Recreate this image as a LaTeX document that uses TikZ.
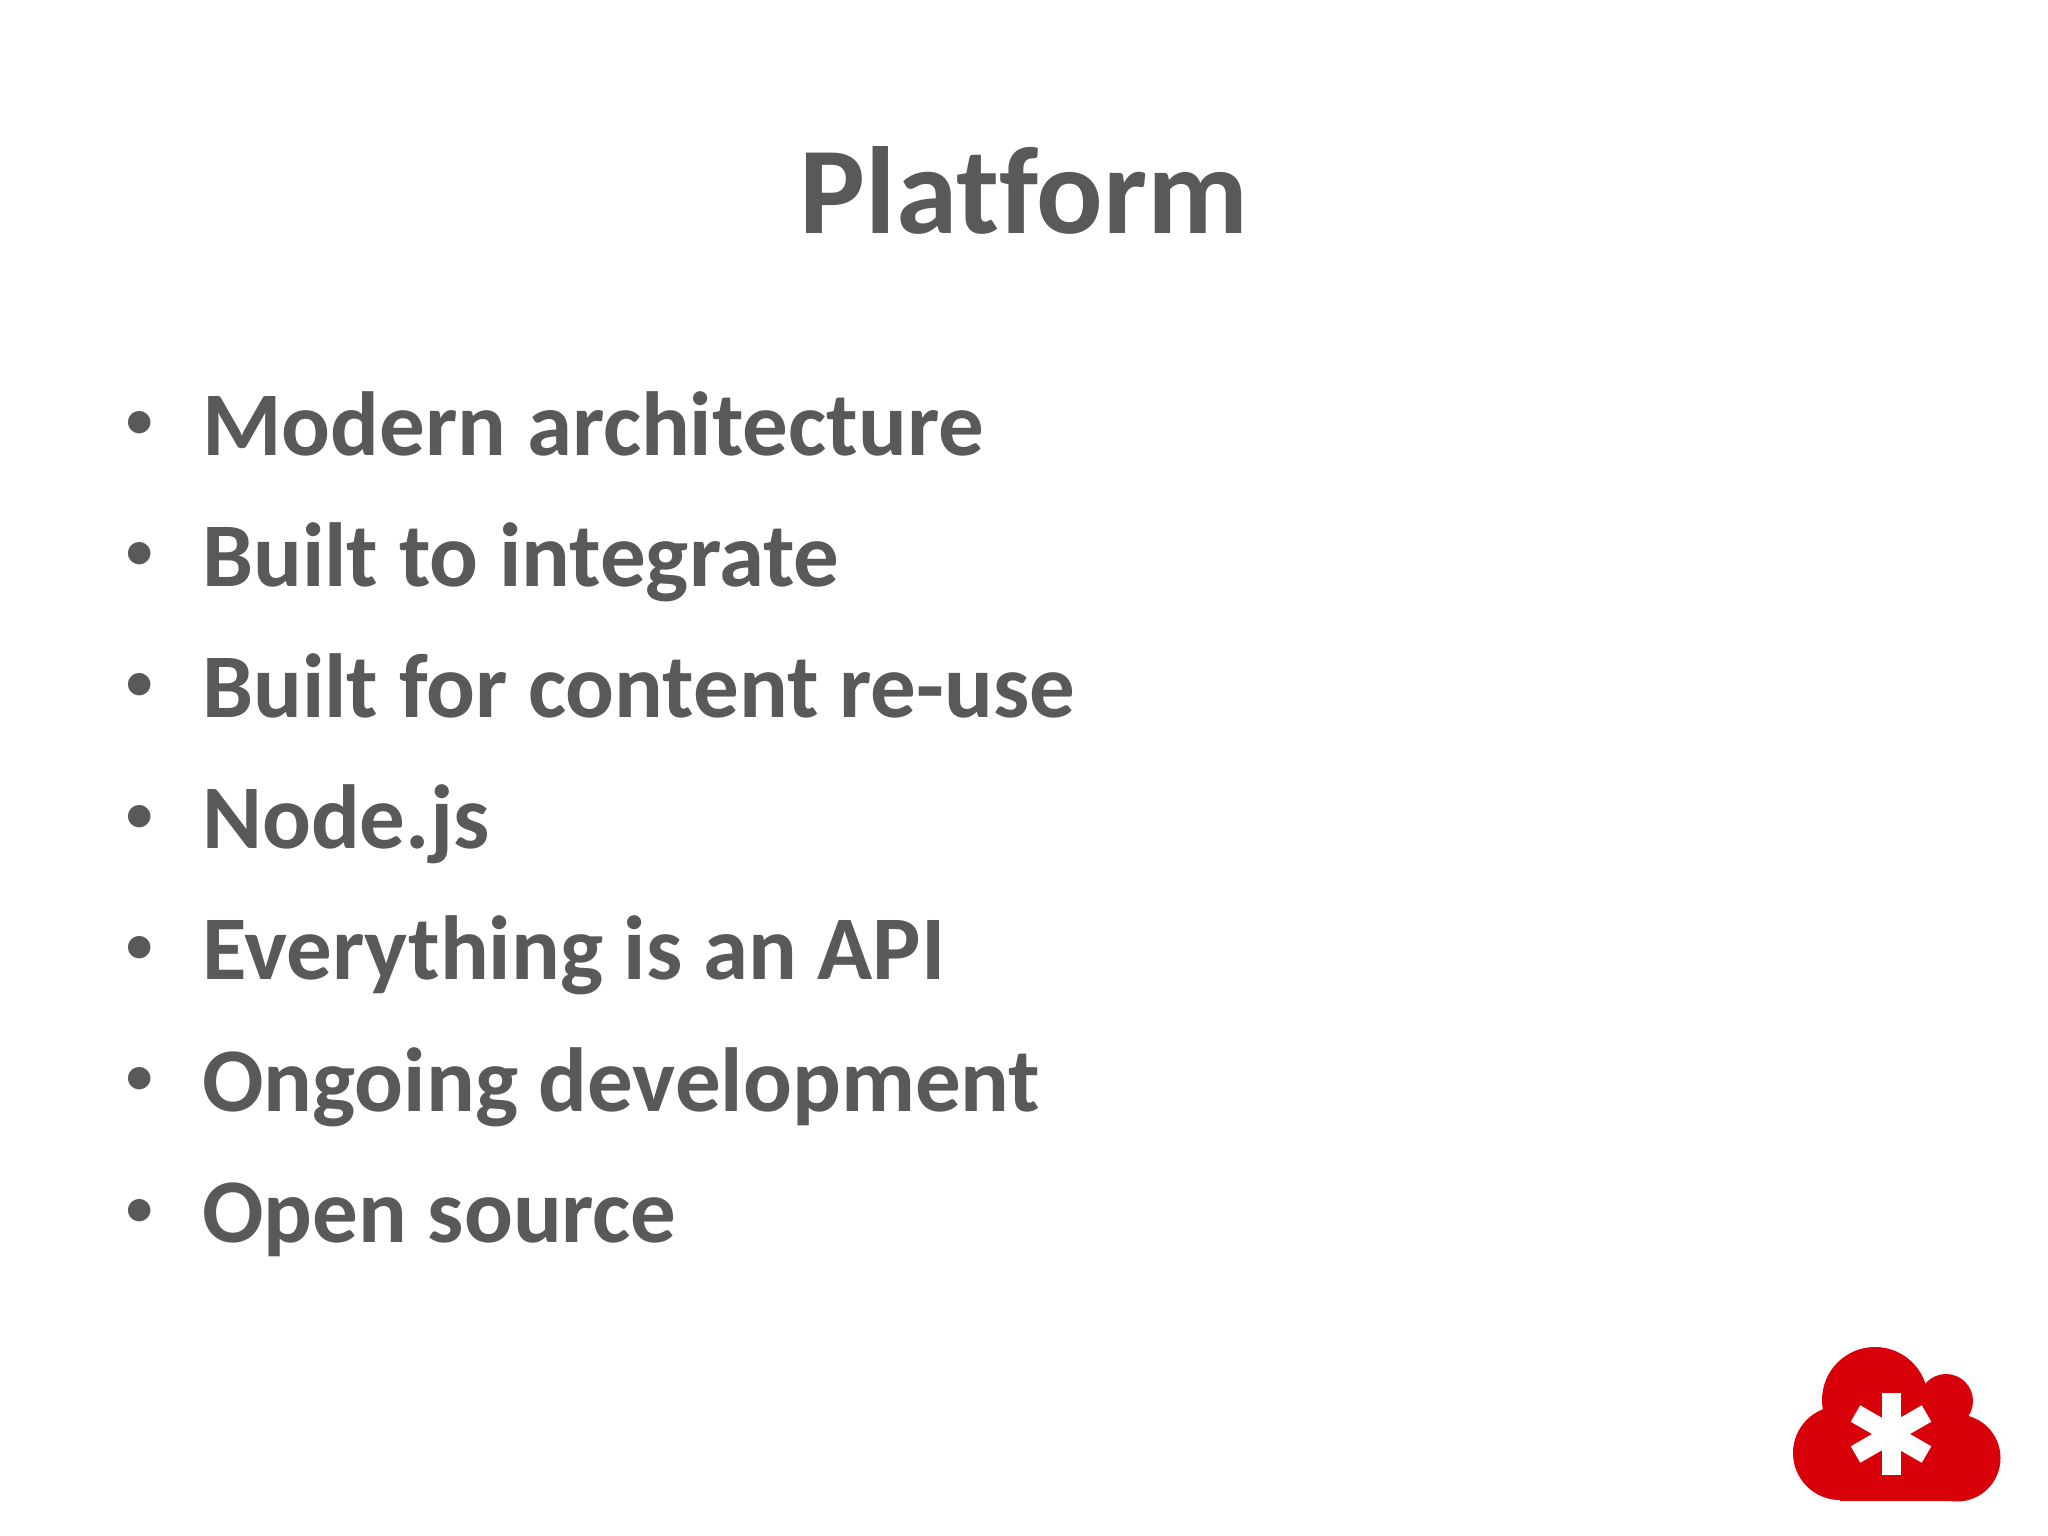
\documentclass[tikz,border=0pt]{standalone}
\usepackage{fontspec}
\setmainfont[Ligatures=NoCommon]{Carlito}
\usepackage{tikz}
\definecolor{slidegray}{HTML}{595959}
\definecolor{cloudred}{HTML}{D80009}
\tikzstyle{heading}=[anchor=base, inner sep=0pt, text=slidegray, font=\fontsize{124pt}{124pt}\selectfont\bfseries]
\tikzstyle{entry}=[anchor=base west, inner sep=0pt, text=slidegray, font=\fontsize{91pt}{91pt}\selectfont\bfseries]
\tikzstyle{bullet}=[anchor=base, inner sep=0pt, text=slidegray, font=\fontsize{53pt}{53pt}\selectfont\bfseries]
\tikzstyle{spoke}=[draw=white, line width=19pt]
\newcommand{\entry}{\node[entry]}
\newcommand{\bulletmark}{\node[bullet]}

\begin{document}
\begin{tikzpicture}[x=1pt, y=-1pt]
\useasboundingbox (0,0) rectangle (2048,1536);
\fill[white] (0,0) rectangle (2048,1536);
\node[heading] (title) at (1024,233) {Platform};
\bulletmark (d1) at (140,437) {•};
\bulletmark (d2) at (140,568) {•};
\bulletmark (d3) at (140,699) {•};
\bulletmark (d4) at (140,831) {•};
\bulletmark (d5) at (140,962) {•};
\bulletmark (d6) at (140,1093) {•};
\bulletmark (d7) at (140,1225) {•};
\entry (i1) at (202,455) {Modern architecture};
\entry (i2) at (202,586) {Built to integrate};
\entry (i3) at (202,717) {Built for content re-use};
\entry (i4) at (202,848) {Node.js};
\entry (i5) at (202,979) {Everything is an API};
\entry (i6) at (202,1111) {Ongoing development};
\entry (i7) at (202,1242) {Open source};
% cloud logo
\fill[cloudred] (1875,1400) circle (53);
\fill[cloudred] (1946,1401) circle (27);
\fill[cloudred] (1840,1453) circle (47);
\fill[cloudred] (1957,1458) circle (43.5);
\fill[cloudred] (1840,1400) rectangle (1957,1501);
\draw[spoke] (1891,1393) -- (1891,1475);
\draw[spoke] (1855.5,1413.5) -- (1926.5,1454.5);
\draw[spoke] (1855.5,1454.5) -- (1926.5,1413.5);
\end{tikzpicture}
\end{document}
